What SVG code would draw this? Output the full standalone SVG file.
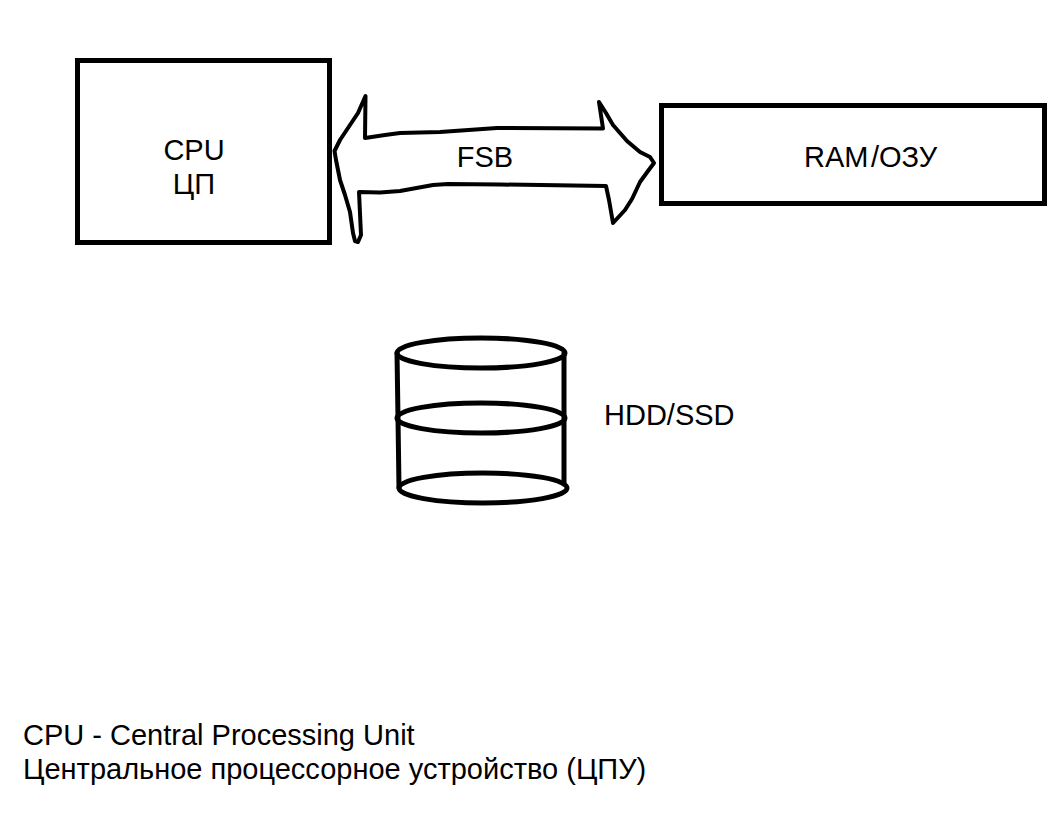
<svg xmlns="http://www.w3.org/2000/svg" width="1064" height="830" viewBox="0 0 1064 830">
<style>
text{font-family:"Liberation Sans",Arial,sans-serif;font-size:29px;fill:#000}
.s{fill:none;stroke:#000;stroke-width:4;stroke-linejoin:round;stroke-linecap:round}
.b{fill:#fff;stroke:#000;stroke-width:5}
</style>
<rect width="1064" height="830" fill="#fff"/>
<g id="cpu"><rect class="b" x="77.500" y="60.500" width="252" height="182"/>
<text x="194" y="160" text-anchor="middle">CPU</text><text x="194" y="194" text-anchor="middle">ЦП</text></g>
<g id="ram"><rect class="b" x="661.500" y="105.500" width="383" height="98"/>
<text x="804" y="167">RAM</text><text x="871" y="167">/ОЗУ</text></g>
<g id="connectors"><g id="fsb">
<path class="s" d="M334.500 151 L340 140 L350 125 L358 113 L365.500 96 L365 138 L385 135 L400 133 L440 132 L497 128 L603 128.500 L599 102 L606 113 L613 125 L627 141 L640 152 L650 157 L654 163 L648 171 L640 182 L632 199 L625 210 L613 223 L609 200 L606 186 L500 184.500 L448 184 L433 185 L400 191 L380 192.500 L359 192 L361 235 L358 242 L355 241 L353 233 L350 212 L345 195 L340 180 L336 160 Z"/>
<text x="485" y="167" text-anchor="middle">FSB</text></g></g>
<g id="storage"><g class="s" style="stroke-width:5">
<ellipse cx="481" cy="353" rx="84" ry="15"/>
<ellipse cx="481" cy="418" rx="84" ry="15"/>
<ellipse cx="483" cy="488" rx="84" ry="15"/>
<path d="M397 353 L398 418 L399 488 M564 353 L564 418 L564 484"/></g>
<text x="604" y="425">HDD/SSD</text></g>
<g id="legend"><text x="23" y="745">CPU - Central Processing Unit</text>
<text x="23" y="779">Центральное процессорное устройство (ЦПУ)</text></g>
</svg>
